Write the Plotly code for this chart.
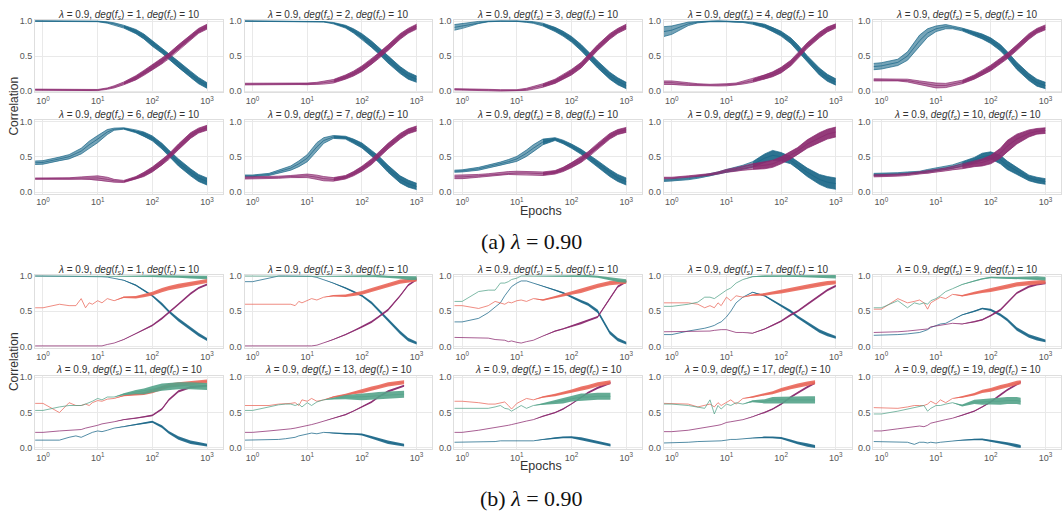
import plotly.graph_objects as go

# ---------------------------------------------------------------- data
# (a) lambda = 0.90 : 10 panels, spread of runs per colour (centre +/- spread)
EPOCHS_A = [0.72, 1, 2, 3, 5, 7, 10, 15, 20, 30, 50, 70, 100, 150, 200, 300, 500, 700, 1000]
DEG_A = [1, 2, 3, 4, 5, 6, 7, 8, 9, 10]

BLUE_A = [
    [1, 1, 1, 1, 1, 1, 0.995, 0.98, 0.96, 0.92, 0.85, 0.78, 0.68, 0.58, 0.5, 0.38, 0.24, 0.15, 0.08],
    [1, 1, 1, 1, 1, 1, 1, 1, 0.99, 0.97, 0.92, 0.86, 0.78, 0.67, 0.58, 0.45, 0.3, 0.22, 0.17],
    [0.91, 0.93, 0.98, 0.995, 1, 1, 1, 0.99, 0.98, 0.95, 0.88, 0.82, 0.74, 0.62, 0.52, 0.38, 0.22, 0.14, 0.08],
    [0.85, 0.87, 0.96, 0.985, 0.995, 1, 0.995, 0.99, 0.99, 0.97, 0.93, 0.88, 0.82, 0.72, 0.62, 0.46, 0.28, 0.19, 0.13],
    [0.35, 0.36, 0.41, 0.5, 0.72, 0.83, 0.89, 0.92, 0.91, 0.88, 0.82, 0.78, 0.72, 0.62, 0.52, 0.36, 0.2, 0.12, 0.08],
    [0.415, 0.42, 0.47, 0.5, 0.58, 0.67, 0.75, 0.85, 0.89, 0.9, 0.86, 0.82, 0.76, 0.65, 0.55, 0.42, 0.28, 0.2, 0.15],
    [0.23, 0.23, 0.25, 0.29, 0.34, 0.4, 0.48, 0.64, 0.73, 0.78, 0.77, 0.72, 0.66, 0.55, 0.47, 0.33, 0.18, 0.12, 0.08],
    [0.295, 0.3, 0.33, 0.36, 0.4, 0.43, 0.47, 0.55, 0.62, 0.71, 0.75, 0.71, 0.65, 0.57, 0.5, 0.4, 0.27, 0.2, 0.15],
    [0.165, 0.17, 0.19, 0.21, 0.24, 0.27, 0.3, 0.33, 0.35, 0.39, 0.48, 0.52, 0.5, 0.45, 0.38, 0.28, 0.18, 0.14, 0.12],
    [0.25, 0.25, 0.26, 0.27, 0.28, 0.3, 0.32, 0.34, 0.36, 0.4, 0.45, 0.5, 0.52, 0.46, 0.38, 0.3, 0.2, 0.17, 0.15],
]
BLUE_A_SPREAD = [
    [0.004, 0.004, 0.004, 0.004, 0.004, 0.004, 0.004, 0.01, 0.015, 0.02, 0.03, 0.035, 0.04, 0.04, 0.045, 0.045, 0.045, 0.045, 0.04],
    [0.003, 0.003, 0.003, 0.003, 0.003, 0.003, 0.003, 0.003, 0.003, 0.01, 0.02, 0.03, 0.04, 0.045, 0.045, 0.05, 0.05, 0.05, 0.045],
    [0.04, 0.035, 0.015, 0.005, 0.003, 0.003, 0.003, 0.008, 0.012, 0.02, 0.03, 0.035, 0.04, 0.045, 0.045, 0.05, 0.05, 0.05, 0.045],
    [0.07, 0.06, 0.025, 0.01, 0.005, 0.005, 0.005, 0.008, 0.01, 0.015, 0.025, 0.03, 0.035, 0.04, 0.045, 0.045, 0.05, 0.05, 0.045],
    [0.045, 0.045, 0.045, 0.06, 0.08, 0.06, 0.04, 0.03, 0.02, 0.02, 0.03, 0.035, 0.04, 0.045, 0.045, 0.05, 0.05, 0.05, 0.045],
    [0.025, 0.025, 0.025, 0.03, 0.04, 0.05, 0.05, 0.035, 0.015, 0.01, 0.02, 0.03, 0.035, 0.04, 0.045, 0.05, 0.05, 0.05, 0.05],
    [0.012, 0.012, 0.015, 0.025, 0.03, 0.04, 0.05, 0.06, 0.04, 0.02, 0.02, 0.03, 0.035, 0.04, 0.045, 0.05, 0.05, 0.05, 0.045],
    [0.015, 0.015, 0.02, 0.02, 0.025, 0.03, 0.035, 0.045, 0.05, 0.04, 0.02, 0.025, 0.03, 0.035, 0.04, 0.045, 0.05, 0.05, 0.05],
    [0.015, 0.015, 0.015, 0.015, 0.015, 0.015, 0.02, 0.025, 0.03, 0.04, 0.06, 0.07, 0.06, 0.05, 0.05, 0.06, 0.07, 0.08, 0.08],
    [0.015, 0.015, 0.015, 0.015, 0.015, 0.02, 0.02, 0.02, 0.025, 0.03, 0.04, 0.05, 0.05, 0.06, 0.06, 0.05, 0.04, 0.04, 0.04],
]
PURPLE_A = [
    [0.02, 0.02, 0.02, 0.015, 0.01, 0.01, 0.015, 0.035, 0.06, 0.11, 0.19, 0.26, 0.34, 0.43, 0.5, 0.62, 0.77, 0.86, 0.92],
    [0.1, 0.1, 0.1, 0.1, 0.1, 0.1, 0.1, 0.11, 0.12, 0.14, 0.2, 0.25, 0.32, 0.42, 0.5, 0.62, 0.78, 0.86, 0.92],
    [0.025, 0.025, 0.02, 0.015, 0.01, 0.01, 0.01, 0.025, 0.045, 0.08, 0.14, 0.2, 0.27, 0.37, 0.47, 0.62, 0.78, 0.86, 0.92],
    [0.12, 0.12, 0.1, 0.09, 0.085, 0.085, 0.09, 0.1, 0.12, 0.15, 0.2, 0.24, 0.3, 0.4, 0.5, 0.65, 0.8, 0.88, 0.93],
    [0.16, 0.16, 0.16, 0.15, 0.12, 0.1, 0.08, 0.08, 0.1, 0.13, 0.2, 0.26, 0.33, 0.43, 0.5, 0.62, 0.78, 0.86, 0.91],
    [0.19, 0.19, 0.19, 0.19, 0.2, 0.2, 0.2, 0.18, 0.16, 0.15, 0.2, 0.25, 0.32, 0.42, 0.5, 0.64, 0.8, 0.87, 0.91],
    [0.2, 0.2, 0.21, 0.21, 0.22, 0.22, 0.23, 0.21, 0.19, 0.18, 0.21, 0.26, 0.33, 0.43, 0.52, 0.65, 0.79, 0.86, 0.9],
    [0.215, 0.215, 0.23, 0.24, 0.26, 0.27, 0.27, 0.27, 0.27, 0.26, 0.28, 0.32, 0.38, 0.46, 0.53, 0.65, 0.79, 0.85, 0.88],
    [0.2, 0.2, 0.22, 0.23, 0.25, 0.27, 0.3, 0.32, 0.34, 0.36, 0.38, 0.4, 0.45, 0.52, 0.58, 0.68, 0.77, 0.82, 0.85],
    [0.23, 0.23, 0.24, 0.25, 0.27, 0.28, 0.3, 0.32, 0.34, 0.36, 0.4, 0.42, 0.46, 0.55, 0.65, 0.75, 0.83, 0.86, 0.87],
]
PURPLE_A_SPREAD = [
    [0.008, 0.008, 0.008, 0.008, 0.008, 0.008, 0.008, 0.01, 0.015, 0.02, 0.03, 0.035, 0.04, 0.04, 0.04, 0.04, 0.04, 0.035, 0.035],
    [0.012, 0.012, 0.012, 0.012, 0.012, 0.012, 0.015, 0.015, 0.02, 0.025, 0.03, 0.035, 0.04, 0.04, 0.04, 0.04, 0.04, 0.035, 0.035],
    [0.01, 0.01, 0.01, 0.01, 0.01, 0.01, 0.01, 0.015, 0.02, 0.025, 0.03, 0.035, 0.04, 0.04, 0.04, 0.04, 0.04, 0.035, 0.035],
    [0.025, 0.025, 0.02, 0.015, 0.012, 0.012, 0.015, 0.015, 0.02, 0.025, 0.03, 0.035, 0.04, 0.04, 0.04, 0.04, 0.04, 0.035, 0.03],
    [0.015, 0.015, 0.015, 0.02, 0.025, 0.03, 0.035, 0.03, 0.025, 0.025, 0.03, 0.035, 0.04, 0.04, 0.04, 0.04, 0.04, 0.035, 0.035],
    [0.01, 0.01, 0.01, 0.012, 0.015, 0.02, 0.03, 0.03, 0.02, 0.015, 0.02, 0.03, 0.035, 0.04, 0.04, 0.04, 0.04, 0.035, 0.035],
    [0.015, 0.015, 0.015, 0.015, 0.015, 0.02, 0.025, 0.03, 0.03, 0.025, 0.025, 0.03, 0.035, 0.04, 0.04, 0.04, 0.04, 0.035, 0.035],
    [0.025, 0.025, 0.02, 0.02, 0.02, 0.02, 0.025, 0.025, 0.025, 0.025, 0.025, 0.03, 0.035, 0.04, 0.04, 0.04, 0.04, 0.035, 0.035],
    [0.01, 0.01, 0.01, 0.012, 0.012, 0.015, 0.02, 0.025, 0.03, 0.04, 0.05, 0.05, 0.05, 0.05, 0.05, 0.06, 0.07, 0.07, 0.07],
    [0.015, 0.015, 0.015, 0.015, 0.015, 0.02, 0.02, 0.02, 0.025, 0.03, 0.04, 0.05, 0.06, 0.07, 0.08, 0.07, 0.05, 0.04, 0.04],
]

# (b) lambda = 0.90 : 10 panels, one run per colour
EPOCHS_B_BASE = [0.72, 1, 2, 3, 4, 5, 6, 7, 8, 10, 12, 15, 20, 30, 50, 70, 100, 150, 200, 300]
EPOCHS_B_TAIL = [[500, 700, 1000]] * 6 + [[590], [515], [417], [353]]
DEG_B = [1, 3, 5, 7, 9, 11, 13, 15, 17, 19]

BLUE_B = [
    [1, 1, 1, 1, 1, 1, 1, 1, 1, 0.995, 0.99, 0.985, 0.97, 0.94, 0.87, 0.8, 0.72, 0.6, 0.5, 0.38, 0.25, 0.17, 0.1],
    [0.92, 0.92, 0.97, 1, 1, 1, 1, 1, 1, 1, 0.995, 0.98, 0.95, 0.9, 0.83, 0.78, 0.72, 0.62, 0.52, 0.38, 0.2, 0.1, 0.05],
    [0.35, 0.35, 0.4, 0.48, 0.56, 0.62, 0.72, 0.8, 0.85, 0.9, 0.93, 0.93, 0.9, 0.86, 0.8, 0.76, 0.7, 0.64, 0.6, 0.5, 0.2, 0.1, 0.05],
    [0.17, 0.17, 0.22, 0.24, 0.26, 0.28, 0.3, 0.33, 0.35, 0.42, 0.5, 0.62, 0.7, 0.77, 0.72, 0.65, 0.58, 0.5, 0.42, 0.33, 0.22, 0.17, 0.13],
    [0.16, 0.16, 0.17, 0.18, 0.19, 0.2, 0.22, 0.24, 0.27, 0.3, 0.32, 0.33, 0.38, 0.45, 0.5, 0.54, 0.52, 0.45, 0.38, 0.25, 0.15, 0.11, 0.08],
    [0.11, 0.11, 0.11, 0.15, 0.17, 0.15, 0.18, 0.2, 0.22, 0.24, 0.23, 0.25, 0.28, 0.3, 0.33, 0.35, 0.37, 0.3, 0.22, 0.14, 0.08, 0.06, 0.04],
    [0.11, 0.11, 0.11, 0.12, 0.13, 0.14, 0.15, 0.17, 0.18, 0.2, 0.21, 0.2, 0.22, 0.21, 0.2, 0.2, 0.19, 0.15, 0.12, 0.08, 0.04],
    [0.08, 0.08, 0.09, 0.09, 0.09, 0.1, 0.1, 0.1, 0.1, 0.1, 0.1, 0.1, 0.1, 0.12, 0.14, 0.15, 0.15, 0.13, 0.11, 0.08, 0.04],
    [0.07, 0.07, 0.08, 0.09, 0.09, 0.1, 0.09, 0.1, 0.1, 0.11, 0.12, 0.12, 0.13, 0.14, 0.15, 0.15, 0.14, 0.1, 0.07, 0.04, 0.02],
    [0.09, 0.09, 0.09, 0.08, 0.05, 0.08, 0.08, 0.07, 0.08, 0.07, 0.08, 0.09, 0.1, 0.11, 0.12, 0.12, 0.1, 0.08, 0.06, 0.03, 0.02],
]
PURPLE_B = [
    [0.01, 0.01, 0.01, 0.005, 0.0, 0.01, 0.0, 0.005, 0.0, 0.005, 0.01, 0.03, 0.05, 0.1, 0.18, 0.24, 0.3, 0.4, 0.48, 0.6, 0.75, 0.83, 0.88],
    [0.01, 0.01, 0.01, 0.005, 0.0, 0.005, 0.0, 0.005, 0.0, 0.005, 0.01, 0.02, 0.05, 0.1, 0.17, 0.22, 0.28, 0.35, 0.42, 0.52, 0.72, 0.87, 0.95],
    [0.13, 0.13, 0.13, 0.12, 0.1, 0.1, 0.09, 0.07, 0.08, 0.06, 0.05, 0.07, 0.09, 0.15, 0.22, 0.25, 0.29, 0.33, 0.37, 0.42, 0.68, 0.85, 0.92],
    [0.21, 0.21, 0.21, 0.21, 0.21, 0.22, 0.23, 0.24, 0.24, 0.24, 0.22, 0.2, 0.2, 0.19, 0.25, 0.3, 0.36, 0.45, 0.5, 0.6, 0.72, 0.8, 0.86],
    [0.2, 0.2, 0.21, 0.22, 0.23, 0.24, 0.24, 0.25, 0.28, 0.29, 0.3, 0.31, 0.33, 0.32, 0.35, 0.38, 0.44, 0.52, 0.62, 0.76, 0.85, 0.88, 0.9],
    [0.22, 0.22, 0.24, 0.25, 0.25, 0.26, 0.28, 0.29, 0.3, 0.32, 0.34, 0.35, 0.37, 0.4, 0.42, 0.44, 0.46, 0.55, 0.68, 0.8, 0.86, 0.87, 0.88],
    [0.22, 0.22, 0.24, 0.25, 0.26, 0.27, 0.28, 0.29, 0.3, 0.31, 0.33, 0.35, 0.38, 0.42, 0.47, 0.52, 0.58, 0.65, 0.72, 0.8, 0.88],
    [0.22, 0.22, 0.25, 0.27, 0.29, 0.3, 0.31, 0.32, 0.33, 0.35, 0.36, 0.38, 0.4, 0.45, 0.5, 0.55, 0.62, 0.72, 0.78, 0.85, 0.92],
    [0.23, 0.23, 0.25, 0.27, 0.29, 0.3, 0.31, 0.32, 0.33, 0.36, 0.37, 0.38, 0.4, 0.44, 0.5, 0.55, 0.62, 0.72, 0.78, 0.86, 0.92],
    [0.24, 0.24, 0.27, 0.29, 0.3, 0.31, 0.3, 0.32, 0.35, 0.37, 0.39, 0.4, 0.42, 0.46, 0.52, 0.58, 0.65, 0.75, 0.82, 0.9, 0.93],
]
RED_B = [
    [0.55, 0.55, 0.6, 0.58, 0.58, 0.68, 0.55, 0.62, 0.6, 0.65, 0.62, 0.68, 0.65, 0.7, 0.7, 0.72, 0.75, 0.8, 0.83, 0.86, 0.89, 0.91, 0.93],
    [0.6, 0.6, 0.6, 0.6, 0.61, 0.6, 0.58, 0.64, 0.62, 0.65, 0.68, 0.66, 0.7, 0.72, 0.72, 0.74, 0.76, 0.8, 0.83, 0.87, 0.92, 0.93, 0.95],
    [0.58, 0.58, 0.54, 0.58, 0.64, 0.62, 0.6, 0.63, 0.62, 0.65, 0.66, 0.64, 0.68, 0.66, 0.7, 0.73, 0.76, 0.79, 0.82, 0.86, 0.9, 0.91, 0.92],
    [0.62, 0.62, 0.62, 0.6, 0.55, 0.58, 0.55, 0.62, 0.58, 0.7, 0.65, 0.72, 0.7, 0.73, 0.74, 0.76, 0.78, 0.8, 0.82, 0.85, 0.88, 0.9, 0.91],
    [0.53, 0.53, 0.68, 0.62, 0.64, 0.66, 0.62, 0.53, 0.62, 0.66, 0.7, 0.68, 0.74, 0.72, 0.76, 0.78, 0.8, 0.83, 0.85, 0.88, 0.9, 0.91, 0.92],
    [0.63, 0.63, 0.5, 0.64, 0.6, 0.6, 0.62, 0.6, 0.64, 0.67, 0.66, 0.69, 0.7, 0.74, 0.76, 0.77, 0.8, 0.85, 0.88, 0.9, 0.92, 0.93, 0.94],
    [0.6, 0.6, 0.6, 0.62, 0.62, 0.63, 0.64, 0.6, 0.68, 0.66, 0.7, 0.66, 0.68, 0.72, 0.75, 0.78, 0.8, 0.84, 0.86, 0.9, 0.93],
    [0.66, 0.66, 0.64, 0.62, 0.62, 0.64, 0.65, 0.6, 0.55, 0.63, 0.66, 0.7, 0.68, 0.72, 0.75, 0.77, 0.8, 0.84, 0.86, 0.9, 0.93],
    [0.63, 0.63, 0.62, 0.58, 0.6, 0.62, 0.58, 0.64, 0.6, 0.64, 0.68, 0.62, 0.7, 0.72, 0.76, 0.78, 0.82, 0.86, 0.88, 0.91, 0.93],
    [0.57, 0.57, 0.56, 0.58, 0.6, 0.6, 0.6, 0.62, 0.66, 0.62, 0.68, 0.64, 0.7, 0.72, 0.76, 0.8, 0.82, 0.86, 0.88, 0.92, 0.93],
]
GREEN_B = [
    [1, 1, 1, 1, 1, 1, 1, 1, 1, 1, 1, 1, 1, 1, 1, 1, 1, 1, 0.995, 0.99, 0.985, 0.98, 0.98],
    [1, 1, 1, 1, 1, 1, 1, 1, 1, 1, 1, 1, 1, 1, 1, 1, 1, 1, 1, 0.99, 0.98, 0.97, 0.97],
    [0.64, 0.64, 0.78, 0.8, 0.8, 0.9, 0.9, 0.92, 0.95, 0.97, 1, 1, 1, 1, 1, 1, 1, 1, 1, 0.99, 0.96, 0.94, 0.93],
    [0.57, 0.57, 0.6, 0.63, 0.7, 0.7, 0.68, 0.72, 0.75, 0.8, 0.83, 0.9, 0.95, 0.99, 1, 1, 1, 1, 1, 1, 1, 0.995, 0.99],
    [0.55, 0.55, 0.65, 0.55, 0.62, 0.6, 0.62, 0.6, 0.65, 0.68, 0.72, 0.78, 0.82, 0.88, 0.93, 0.96, 0.98, 0.97, 0.97, 0.97, 0.97, 0.97, 0.96],
    [0.53, 0.53, 0.58, 0.6, 0.6, 0.6, 0.62, 0.64, 0.66, 0.7, 0.68, 0.72, 0.72, 0.76, 0.79, 0.8, 0.83, 0.86, 0.87, 0.88, 0.88, 0.88, 0.87],
    [0.53, 0.53, 0.58, 0.61, 0.62, 0.62, 0.6, 0.62, 0.58, 0.64, 0.6, 0.65, 0.68, 0.7, 0.72, 0.72, 0.72, 0.73, 0.74, 0.75, 0.76],
    [0.56, 0.56, 0.56, 0.56, 0.58, 0.6, 0.56, 0.55, 0.52, 0.57, 0.6, 0.56, 0.6, 0.62, 0.65, 0.67, 0.7, 0.72, 0.72, 0.73, 0.73],
    [0.62, 0.62, 0.6, 0.58, 0.56, 0.68, 0.48, 0.6, 0.55, 0.62, 0.6, 0.64, 0.62, 0.66, 0.66, 0.68, 0.68, 0.68, 0.68, 0.68, 0.68],
    [0.48, 0.48, 0.52, 0.55, 0.57, 0.58, 0.6, 0.52, 0.56, 0.6, 0.6, 0.62, 0.64, 0.6, 0.65, 0.65, 0.66, 0.66, 0.67, 0.67, 0.66],
]
# per-epoch noise half-width of the single runs (full-length grid)
SPREAD_B_BLUE = [0, 0, 0, 0, 0, 0, 0, 0, 0, 0, 0, 0, 0, 0.005, 0.01, 0.012, 0.015, 0.02, 0.02, 0.025, 0.025, 0.025, 0.02]
SPREAD_B_PURPLE = [0, 0, 0, 0, 0, 0, 0, 0, 0, 0, 0, 0, 0, 0.004, 0.008, 0.01, 0.012, 0.015, 0.015, 0.015, 0.015, 0.015, 0.015]
SPREAD_B_RED = [0, 0, 0, 0, 0, 0, 0, 0, 0, 0, 0, 0, 0, 0.01, 0.018, 0.022, 0.027, 0.03, 0.03, 0.03, 0.03, 0.03, 0.028]
SPREAD_B_GREEN_TOP = [0, 0, 0, 0, 0, 0, 0, 0, 0, 0, 0, 0, 0, 0.005, 0.008, 0.01, 0.01, 0.012, 0.015, 0.015, 0.02, 0.025, 0.025]
SPREAD_B_GREEN_BOTTOM = [0, 0, 0, 0, 0, 0, 0, 0, 0, 0, 0, 0, 0, 0.015, 0.03, 0.04, 0.045, 0.05, 0.05, 0.05, 0.05, 0.05, 0.05]

Y_TICKS = [0, 0.5, 1.0]
Y_TICKTEXT = ["0.0", "0.5", "1.0"]
X_TICKS = [1, 10, 100, 1000]
X_TICKTEXT = ["10<sup>0</sup>", "10<sup>1</sup>", "10<sup>2</sup>", "10<sup>3</sup>"]

# ---------------------------------------------------------------- style / layout
W, H = 1063, 521
BLUE = (27, 103, 136)
PURPLE = (139, 42, 111)
RED = (233, 103, 90)
GREEN = (84, 163, 137)
COL_LEFT = [35, 244.6, 454.2, 663.8, 873.4]
COL_W = 187.7
ROWS = [(16.9, 90.7), (118.6, 193.1), (275.3, 349.7), (377.9, 452.4)]
TITLE_Y = [12.5, 114, 270.7, 372]
FONT = "Liberation Sans"


def rgba(c, a):
    return "rgba(%d,%d,%d,%.2f)" % (c[0], c[1], c[2], a)


fig = go.Figure()


def band(x, mid, sp, color, xa, ya, start, end, alpha):
    xs = x[start:end]
    lo = [m - s for m, s in zip(mid[start:end], sp[start:end])]
    hi = [m + s for m, s in zip(mid[start:end], sp[start:end])]
    fig.add_trace(go.Scatter(
        x=xs + xs[::-1], y=hi + lo[::-1], mode="lines", fill="toself",
        fillcolor=rgba(color, alpha), line=dict(width=0), hoverinfo="skip",
        showlegend=False, xaxis=xa, yaxis=ya))


def line(x, y, color, alpha, width, xa, ya):
    fig.add_trace(go.Scatter(
        x=x, y=y, mode="lines", line=dict(color=rgba(color, alpha), width=width),
        hoverinfo="skip", showlegend=False, xaxis=xa, yaxis=ya))


def title_text(fs):
    return ("<i>λ</i> = 0.9, <i>deg</i>(<i>f<sub>s</sub></i>) = %d, "
            "<i>deg</i>(<i>f<sub>c</sub></i>) = 10" % fs)


annotations = []
layout_axes = {}
for k in range(20):
    block_row = k // 5          # 0..3
    col = k % 5
    n = k + 1
    xa = "x" if n == 1 else "x%d" % n
    ya = "y" if n == 1 else "y%d" % n
    top, bot = ROWS[block_row]
    left = COL_LEFT[col]
    layout_axes["xaxis" if n == 1 else "xaxis%d" % n] = dict(
        type="log", range=[-0.146, 3.287], domain=[left / W, (left + COL_W) / W],
        anchor=ya, tickvals=X_TICKS, ticktext=X_TICKTEXT, showgrid=True,
        gridcolor="#e9e9e9", gridwidth=1, showline=True, mirror=True,
        linecolor="#dedede", linewidth=1, zeroline=False, ticks="",
        tickfont=dict(family=FONT, size=9, color="#555555"))
    layout_axes["yaxis" if n == 1 else "yaxis%d" % n] = dict(
        range=[-0.02, 1.02], domain=[1 - bot / H, 1 - top / H], anchor=xa,
        tickvals=Y_TICKS, ticktext=Y_TICKTEXT, showgrid=True, gridcolor="#e9e9e9",
        gridwidth=1, showline=True, mirror=True, linecolor="#dedede", linewidth=1,
        zeroline=False, ticks="", tickfont=dict(family=FONT, size=9, color="#555555"))

    if block_row < 2:
        i = k
        fs = DEG_A[i]
        x = EPOCHS_A
        for mid, sp, c in ((BLUE_A[i], BLUE_A_SPREAD[i], BLUE),
                           (PURPLE_A[i], PURPLE_A_SPREAD[i], PURPLE)):
            band(x, mid, sp, c, xa, ya, 0, 10, 0.6)
            band(x, mid, sp, c, xa, ya, 9, len(x), 0.92)
            lo_all = [m - s for m, s in zip(mid, sp)]
            hi_all = [m + s for m, s in zip(mid, sp)]
            line(x, lo_all, c, 0.9, 0.8, xa, ya)
            line(x, hi_all, c, 0.9, 0.8, xa, ya)
            line(x, mid, c, 0.9, 0.8, xa, ya)
    else:
        i = k - 10
        fs = DEG_B[i]
        x = EPOCHS_B_BASE + EPOCHS_B_TAIL[i]
        green_sp = SPREAD_B_GREEN_TOP if block_row == 2 else SPREAD_B_GREEN_BOTTOM
        for vals, sp_full, c in ((BLUE_B[i], SPREAD_B_BLUE, BLUE),
                                 (PURPLE_B[i], SPREAD_B_PURPLE, PURPLE),
                                 (RED_B[i], SPREAD_B_RED, RED),
                                 (GREEN_B[i], green_sp, GREEN)):
            if len(x) == len(sp_full):
                sp = sp_full
            else:
                sp = sp_full[:len(x) - 1] + [sp_full[-1]]
            band(x, vals, sp, c, xa, ya, 12, len(x), 0.9)
            line(x, vals, c, 0.75, 1.0, xa, ya)

    annotations.append(dict(
        text=title_text(fs), x=(left + COL_W / 2) / W, y=1 - TITLE_Y[block_row] / H,
        xref="paper", yref="paper", xanchor="center", yanchor="middle",
        showarrow=False, font=dict(family=FONT, size=10, color="#333333")))

for yc in (105, 364):
    annotations.append(dict(
        text="Correlation", x=14 / W, y=1 - yc / H, xref="paper", yref="paper",
        xanchor="center", yanchor="middle", textangle=-90, showarrow=False,
        font=dict(family=FONT, size=12, color="#333333")))
for yc in (211, 469):
    annotations.append(dict(
        text="Epochs", x=541 / W, y=1 - yc / H, xref="paper", yref="paper",
        xanchor="center", yanchor="middle", showarrow=False,
        font=dict(family=FONT, size=12.5, color="#333333")))
for txt, yc in (("(a) <i>λ</i> = 0.90", 242), ("(b) <i>λ</i> = 0.90", 502)):
    annotations.append(dict(
        text=txt, x=531 / W, y=1 - yc / H, xref="paper", yref="paper",
        xanchor="center", yanchor="middle", showarrow=False,
        font=dict(family="Liberation Serif", size=22, color="#111111")))

fig.update_layout(
    width=W, height=H, margin=dict(l=0, r=0, t=0, b=0),
    paper_bgcolor="white", plot_bgcolor="white", showlegend=False,
    annotations=annotations, **layout_axes)

fig.write_html("out.html", config={"displayModeBar": False},
               post_script="document.body.style.margin='0';")
